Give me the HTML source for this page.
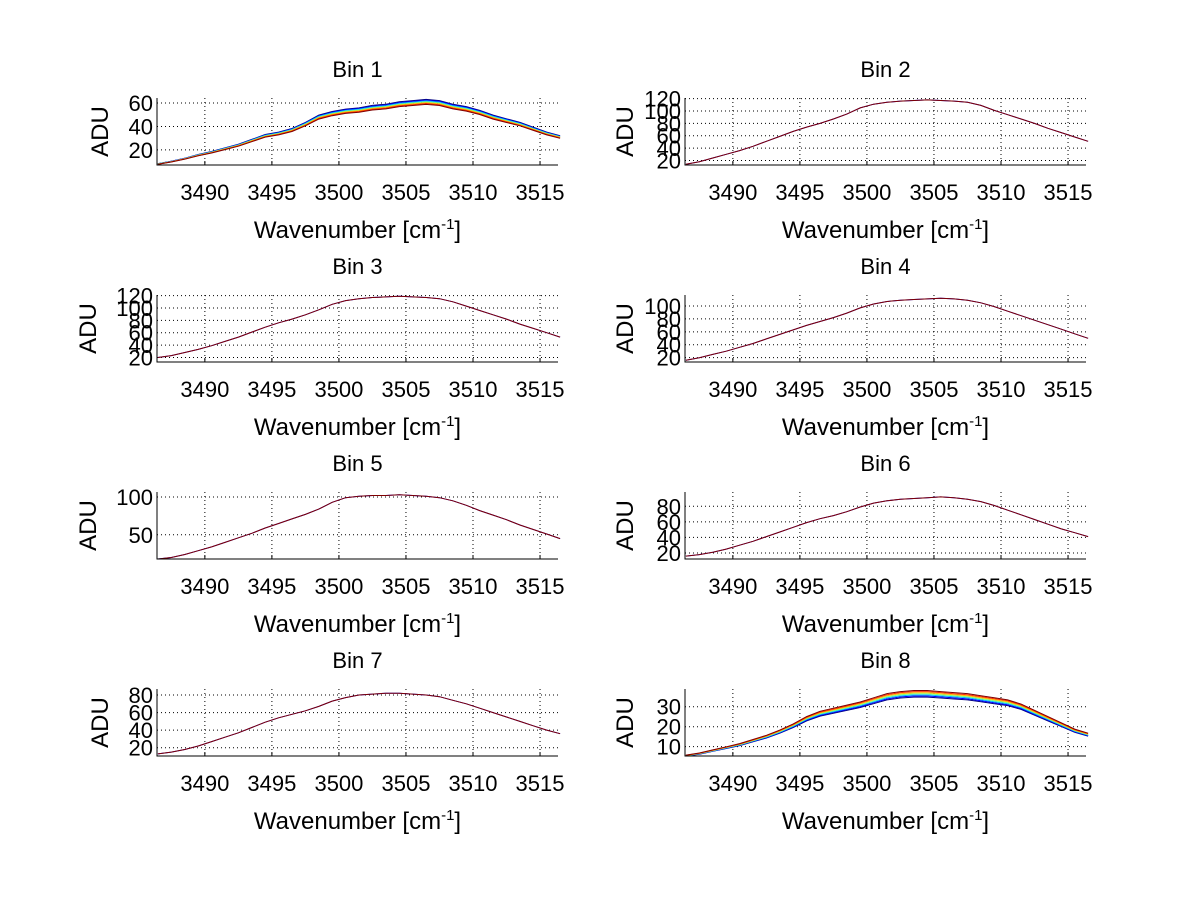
<!DOCTYPE html>
<html><head><meta charset="utf-8"><style>
html,body{margin:0;padding:0;background:#fff;}
svg{display:block;font-family:"Liberation Sans",Arial,sans-serif;}
</style></head><body>
<svg id="fig" width="1200" height="901" viewBox="0 0 1200 901"></svg>
<script>
const xTicks = [3490, 3495, 3500, 3505, 3510, 3515];
const xStart = 3486.5;
const xStep = 1;
const binTitles = ["Bin 1","Bin 2","Bin 3","Bin 4","Bin 5","Bin 6","Bin 7","Bin 8"];
const bin1 = [8,10,12.5,15.5,18,21,24,28,32,34,37,42,48,51,53,54,56,57,59,60,61,60,57,55,52,48,45,42,38,34,31];
const bin2 = [14,18,24,30,36,43,51,59,67,74,80,87,95,105,111,114,116,117,118,117,116,114,109,101,94,87,80,72,65,58,51];
const bin3 = [20,23,28,33,39,46,53,61,69,76,82,89,97,106,112,115,117,118,119,118,117,115,110,103,96,89,82,74,67,60,53];
const bin4 = [16,20,25,30,36,42,49,56,63,70,76,82,89,97,103,107,109,110,111,112,111,109,105,99,92,85,78,71,64,57,50];
const bin5 = [17,20,24,29,34,40,46,52,59,65,71,77,84,93,99,101,102,102,103,102,101,99,95,89,82,76,70,63,57,51,45];
const bin6 = [16,18,21,25,30,35,41,47,53,59,64,68,73,79,84,87,89,90,91,92,91,89,86,81,75,69,63,57,51,46,41];
const bin7 = [13,15,18,22,27,32,37,43,49,54,58,62,67,73,77,80,81,82,82,81,80,78,74,70,65,60,55,50,45,40,36];
const bin8 = [5.5,6.5,8,9.5,11,13,15,17.5,20.5,24,26.5,28,29.5,31,33,35,36,36.5,36.5,36,35.5,35,34,33,32,30,27,24,21,18,16];
const bin1Ticks = [20,40,60];
const bin2Ticks = [20,40,60,80,100,120];
const bin3Ticks = [20,40,60,80,100,120];
const bin4Ticks = [20,40,60,80,100];
const bin5Ticks = [50,100];
const bin6Ticks = [20,40,60,80];
const bin7Ticks = [20,40,60,80];
const bin8Ticks = [10,20,30];
const binData = [bin1,bin2,bin3,bin4,bin5,bin6,bin7,bin8];
const binTickSets = [bin1Ticks,bin2Ticks,bin3Ticks,bin4Ticks,bin5Ticks,bin6Ticks,bin7Ticks,bin8Ticks];
const yMins = [7.1,12.7,12.7,13.3,18,12.3,10.6,5.3];
const yMaxs = [64.3,121,121,117,106.6,98.3,86.8,38.9];
const seriesColors = ["#00007f","#0000ff","#00bfff","#7fff7f","#ffbf00","#ff3000","#7f0000"];
const seriesSpread = [0.035,0,0,0,0,0,0,-0.045];

const NS = "http://www.w3.org/2000/svg";
const svg = document.getElementById("fig");
function mk(tag, attrs, parent){
  const e = document.createElementNS(NS, tag);
  for (const k in attrs) e.setAttribute(k, attrs[k]);
  (parent||svg).appendChild(e);
  return e;
}
const xMin = 3486.43, xMax = 3516.34;
for (let b = 0; b < 8; b++) {
  const col = b % 2, row = Math.floor(b/2);
  const L = col ? 685 : 157, R = col ? 1086 : 558;
  const T = 98 + row*197, B = 165 + row*197;
  const sx = v => L + (v - xMin)/(xMax - xMin)*(R - L);
  const sy = v => B - (v - yMins[b])/(yMaxs[b] - yMins[b])*(B - T);
  const g = mk("g", {});
  
  
  xTicks.forEach(t => {
    const l = mk("line", {x1:sx(t), x2:sx(t), y1:T, y2:B, stroke:"#000", "stroke-width":1, "stroke-dasharray":"1,3"}, g);
    
    
    const tk = mk("line", {x1:sx(t), x2:sx(t), y1:B, y2:B-4, stroke:"#000"}, g);
    
    
    const tx = mk("text", {x:sx(t), y:B+35, "text-anchor":"middle", "font-size":22}, g);
    tx.textContent = t;
    
    
  });
  binTickSets[b].forEach(t => {
    const l = mk("line", {x1:L, x2:R, y1:sy(t), y2:sy(t), stroke:"#000", "stroke-width":1, "stroke-dasharray":"1,3"}, g);
    
    
    const tx = mk("text", {x:L-4, y:sy(t)+8, "text-anchor":"end", "font-size":22}, g);
    tx.textContent = t;
    
    
  });
  const data = binData[b];
  const nS = seriesSpread[b] !== 0 ? seriesColors.length : 2;
  for (let s = 0; s < nS; s++) {
    const color = nS === 2 ? (s ? "#7f0000" : "#0000ff") : seriesColors[s];
    const f = nS === 2 ? 0 : seriesSpread[b]*(3 - s)/3;
    const pts = data.map((v,i) => sx(xStart + i*xStep).toFixed(1) + "," + Math.max(T, Math.min(B, sy(v*(1+f)))).toFixed(1)).join(" ");
    const pl = mk("polyline", {points:pts, fill:"none", stroke:color, "stroke-width":1}, g);
    
    
  }
  const ax = mk("path", {d:`M${L},${T}V${B}H${R}`, fill:"none", stroke:"#000", "stroke-width":1}, g);
  
  
  const ti = mk("text", {x:(L+R)/2, y:T-21, "text-anchor":"middle", "font-size":22}, g);
  ti.textContent = binTitles[b];
  
  
  const xl = mk("text", {x:(L+R)/2, y:B+73, "text-anchor":"middle", "font-size":24}, g);
  xl.innerHTML = 'Wavenumber [cm<tspan dy="-9" font-size="15">-1</tspan><tspan dy="9">]</tspan>';
  
  
  const maxLen = Math.max(...binTickSets[b].map(t => String(t).length));
  const ylx = col ? 633 : (maxLen >= 3 ? 96 : 108);
  const yl = mk("text", {x:ylx, y:(T+B)/2, "text-anchor":"middle", "font-size":24, transform:`rotate(-90 ${ylx} ${(T+B)/2})`}, g);
  yl.textContent = "ADU";
  
  
}
</script>
</body></html>
